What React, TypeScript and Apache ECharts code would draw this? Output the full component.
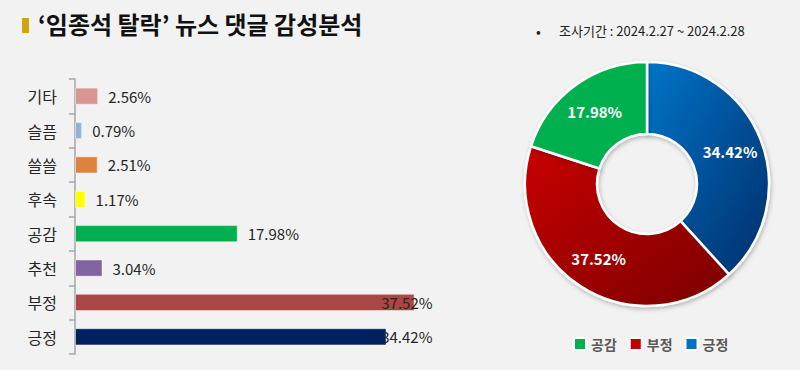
import React, { useEffect, useRef } from "react";
import * as echarts from "echarts";

const categories = ["기타", "슬픔", "쓸쓸", "후속", "공감", "추천", "부정", "긍정"];
const barValues = [2.56, 0.79, 2.51, 1.17, 17.98, 3.04, 37.52, 34.42];
const barColors = ["#D99694", "#95B3D7", "#DE8240", "#FFFF00", "#00B050", "#8064A2", "#AA4644", "#002060"];

const pieNames = ["긍정", "부정", "공감"];
const pieValues = [34.42, 37.52, 17.98];
const legendOrder = ["공감", "부정", "긍정"];

const titleText = "‘임종석 탈락’ 뉴스 댓글 감성분석";
const periodText = "조사기간 : 2024.2.27 ~ 2024.2.28";

const FONT = "'Noto Sans CJK KR', 'Noto Sans', sans-serif";

export default function App() {
  const ref = useRef<HTMLDivElement>(null);

  useEffect(() => {
    if (!ref.current) return;
    const chart = echarts.init(ref.current, null, { renderer: "svg" });

    const pieColors: Record<string, any> = {
      긍정: new echarts.graphic.LinearGradient(0, 0, 1, 1, [
        { offset: 0, color: "#0074C8" },
        { offset: 1, color: "#002E6B" },
      ]),
      부정: new echarts.graphic.LinearGradient(0, 0, 1, 1, [
        { offset: 0, color: "#C80000" },
        { offset: 1, color: "#7A0000" },
      ]),
      공감: "#00B050",
    };
    const legendColors: Record<string, string> = { 긍정: "#0070C0", 부정: "#C00000", 공감: "#00B050" };

    const overflowOffset: Record<number, number> = { 6: 18, 7: 46 };

    chart.setOption({
      animation: false,
      backgroundColor: "#F2F2F2",
      textStyle: { fontFamily: FONT },
      graphic: [
        { type: "rect", left: 22, top: 18, shape: { width: 7, height: 15 }, style: { fill: "#D4A20A" } },
        {
          type: "text",
          left: 38,
          top: 11,
          style: { text: titleText, fontSize: 24, fontWeight: "bold", fill: "#111111", fontFamily: FONT },
        },
        { type: "text", left: 536, top: 24, style: { text: "•", fontSize: 14, fill: "#222", fontFamily: FONT } },
        {
          type: "text",
          left: 559,
          top: 24,
          style: { text: periodText, fontSize: 13, fill: "#222222", fontFamily: FONT },
        },
      ],
      grid: { left: 75, top: 79, width: 362, height: 275, containLabel: false },
      xAxis: { type: "value", min: 0, max: 40, show: false },
      yAxis: {
        type: "category",
        inverse: true,
        data: categories,
        axisLine: { show: true, lineStyle: { color: "#A6A6A6", width: 1.5 } },
        axisTick: { show: true, length: 6, lineStyle: { color: "#A6A6A6", width: 1.5 } },
        axisLabel: { fontSize: 16, color: "#262626", margin: 18, fontFamily: FONT },
      },
      legend: {
        data: legendOrder.map((n) => ({ name: n, itemStyle: { color: legendColors[n] } })),
        left: 568,
        top: 332,
        itemWidth: 12,
        itemHeight: 12,
        itemGap: 12,
        icon: "rect",
        textStyle: { fontSize: 14, fontWeight: "bold", color: "#595959", fontFamily: FONT },
      },
      series: [
        {
          type: "bar",
          barCategoryGap: "50%",
          data: barValues.map((v, i) => ({
            value: v,
            itemStyle: { color: barColors[i], borderColor: "rgba(255,255,255,0.45)", borderWidth: 1 },
            label:
              overflowOffset[i] !== undefined
                ? { position: "insideRight", distance: 0, offset: [overflowOffset[i], 0] }
                : undefined,
          })),
          label: {
            show: true,
            position: "right",
            distance: 10,
            formatter: (p: any) => p.value.toFixed(2) + "%",
            fontSize: 15,
            color: "#262626",
            fontFamily: FONT,
          },
        },
        {
          type: "pie",
          center: [647, 184],
          radius: [50, 122],
          startAngle: 90,
          clockwise: true,
          data: pieNames.map((n, i) => ({
            name: n,
            value: pieValues[i],
            itemStyle: { color: pieColors[n] },
          })),
          itemStyle: {
            borderColor: "#FFFFFF",
            borderWidth: 2.5,
            shadowBlur: 4,
            shadowOffsetX: 1,
            shadowOffsetY: 2,
            shadowColor: "rgba(0,0,0,0.25)",
          },
          label: {
            show: true,
            position: "inside",
            formatter: (p: any) => p.value.toFixed(2) + "%",
            fontSize: 15,
            fontWeight: "bold",
            color: "#FFFFFF",
            fontFamily: FONT,
          },
          labelLine: { show: false },
          emphasis: { disabled: true },
        },
      ],
    });

    return () => chart.dispose();
  }, []);

  return (
    <div
      ref={ref}
      style={{ position: "fixed", left: 0, top: 0, width: 800, height: 370, background: "#F2F2F2" }}
    />
  );
}
